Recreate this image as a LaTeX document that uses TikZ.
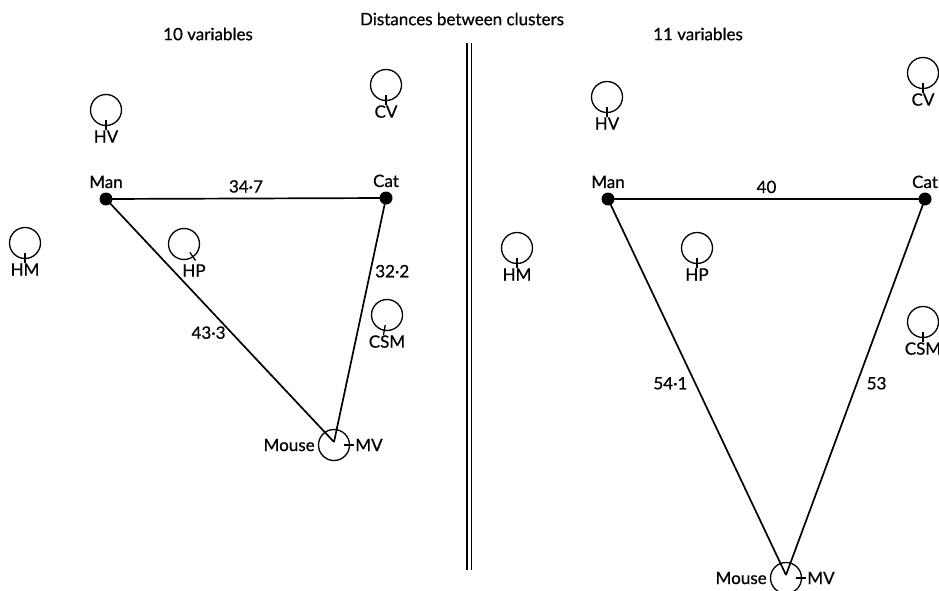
\documentclass[tikz,border=0pt]{standalone}
\usepackage{fontspec}
\setmainfont{Lato}[FakeBold=0.6]
\newfontfamily\labfont{Lato}[FakeBold=0.6]
\usetikzlibrary{positioning,calc}

\begin{document}
\begin{tikzpicture}[
    x=1pt, y=1pt,
    every node/.style={font=\labfont\fontsize{17}{20}\selectfont},
    dot/.style={circle, fill=black, inner sep=0pt, minimum size=13pt},
    clus/.style={circle, draw, line width=1.3pt, inner sep=0pt, minimum size=31pt},
    tag/.style={inner sep=1pt},
    dist/.style={inner sep=1pt},
    edge/.style={line width=1.7pt},
    tick/.style={line width=1.3pt}
]
\useasboundingbox (0,0) rectangle (939,-591);
\clip (0,0) rectangle (939,-591);

% headings and the separator
\node (title) at (462,-19) {Distances between clusters};
\node (headL) at (208,-34) {10 variables};
\node (headR) at (698,-34) {11 variables};
\coordinate (sepTop) at (469,-43);
\coordinate (sepBot) at (469,-570);
\draw[double, double distance=3pt, line width=1.2pt] (sepTop) -- (sepBot);

% --- 10 variables ---
\node[dot] (manL) at (106,-199) {};
\node[dot] (catL) at (386,-198) {};
\node[clus] (mouseL) at (334,-445) {};
\coordinate (vL) at (334,-442);
\node[tag, above=3pt of manL] {Man};
\node[tag, above=3pt of catL] {Cat};
\node[tag, left=2pt of mouseL] {Mouse};
\node[tag, right=4pt of mouseL] (mvL) {MV};

\node[clus] (hvL) at (106,-110) {};
\node[clus] (cvL) at (386,-85) {};
\node[clus] (hmL) at (25,-243) {};
\node[clus] (hpL) at (184,-244) {};
\node[clus] (csmL) at (387,-315) {};
\node[tag, below=3pt of hvL] {HV};
\node[tag, below=3pt of cvL] {CV};
\node[tag, below=3pt of hmL] {HM};
\node[tag, below=3pt of hpL, xshift=10pt] {HP};
\node[tag, below=3pt of csmL] {CSM};

\draw[edge] (manL.center) -- node[dist, above=4pt] {34·7} (catL.center);
\draw[edge] (manL.center) -- node[dist, pos=0.55, left=4pt] {43·3} (vL);
\draw[edge] (catL.center) -- node[dist, pos=0.3, right=3pt] {32·2} (vL);

% --- 11 variables ---
\node[dot] (manR) at (608,-199) {};
\node[dot] (catR) at (925,-199) {};
\node[clus] (mouseR) at (786,-578) {};
\coordinate (vR) at (786,-575);
\node[tag, above=3pt of manR] {Man};
\node[tag, above=3pt of catR] {Cat};
\node[tag, left=2pt of mouseR] {Mouse};
\node[tag, right=4pt of mouseR] (mvR) {MV};

\node[clus] (hvR) at (607,-97) {};
\node[clus] (cvR) at (923,-73) {};
\node[clus] (hmR) at (517,-248) {};
\node[clus] (hpR) at (697,-248) {};
\node[clus] (csmR) at (923,-322) {};
\node[tag, below=3pt of hvR] {HV};
\node[tag, below=3pt of cvR] {CV};
\node[tag, below=3pt of hmR] {HM};
\node[tag, below=3pt of hpR] {HP};
\node[tag, below=3pt of csmR] {CSM};

\draw[edge] (manR.center) -- node[dist, above=4pt] {40} (catR.center);
\draw[edge] (manR.center) -- node[dist, pos=0.49, left=6pt] {54·1} (vR);
\draw[edge] (catR.center) -- node[dist, pos=0.49, right=8pt] {53} (vR);

% ticks on the cluster circles
\foreach \c/\a in {hvL/-90, cvL/-90, hmL/-90, hpL/-55, csmL/-100, mouseL/0,
                   hvR/-90, cvR/-90, hmR/-90, hpR/-90, csmR/-90, mouseR/0}
  \draw[tick] ($(\c.\a)+(\a:-6)$) -- ($(\c.\a)+(\a:4)$);
\end{tikzpicture}
\end{document}
